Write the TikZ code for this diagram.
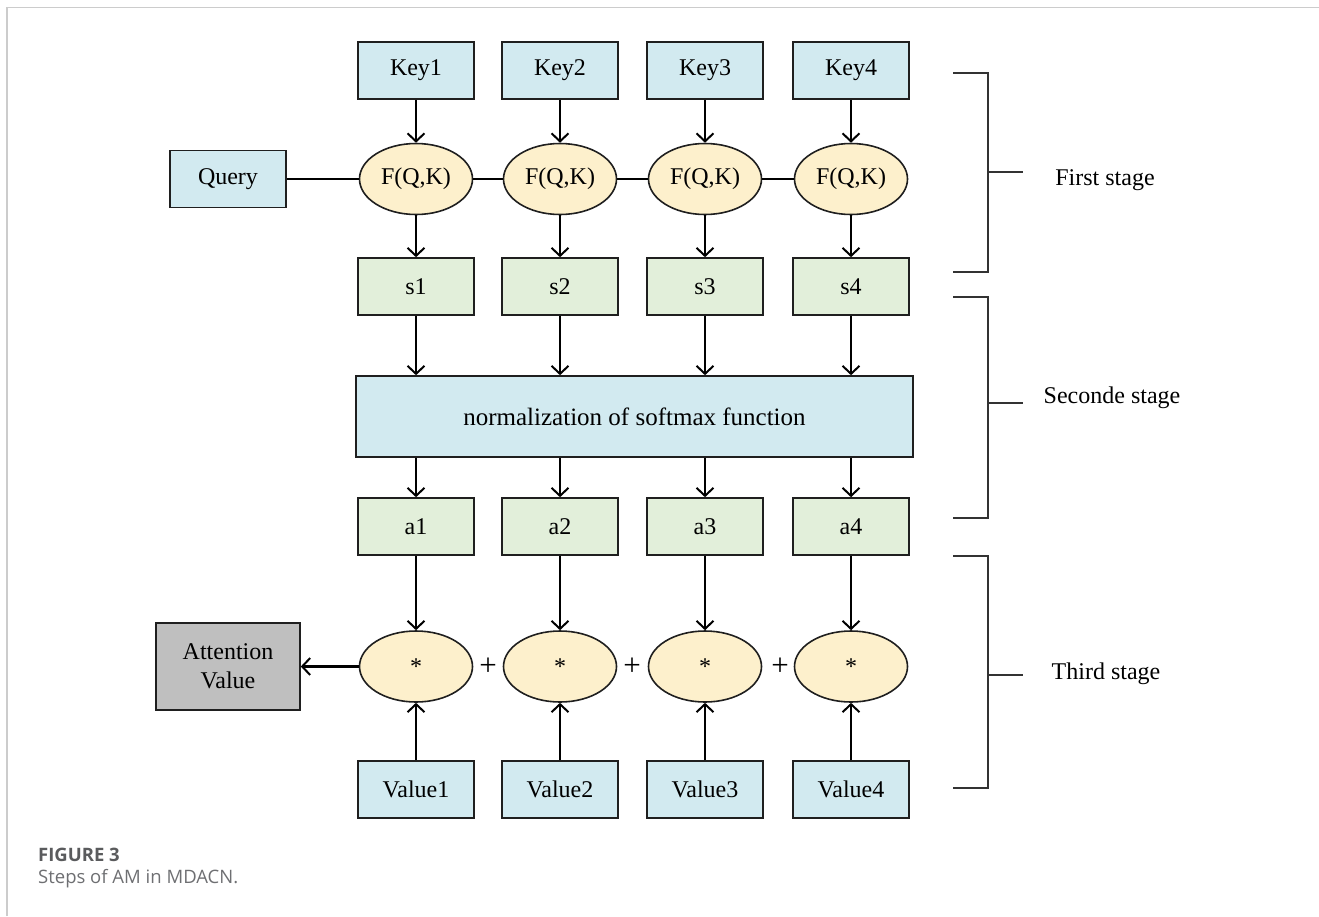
\documentclass[tikz,border=0pt]{standalone}
\usepackage{fontspec}
\setmainfont{Liberation Serif}
\newfontfamily\capfont{Open Sans}
\usetikzlibrary{arrows.meta,shapes.geometric}

\definecolor{boxblue}{HTML}{D2EAF0}
\definecolor{boxgreen}{HTML}{E2EFDA}
\definecolor{ovalfill}{HTML}{FDF0CC}
\definecolor{resultgray}{HTML}{BFBFBF}
\definecolor{framegray}{HTML}{CCCCCC}
\definecolor{capdark}{HTML}{5A5B5D}
\definecolor{caplight}{HTML}{6E6F72}

\begin{document}
\begin{tikzpicture}[x=1pt,y=-1pt,
  every node/.style={font=\fontsize{24}{29}\selectfont, text=black, inner sep=0pt},
  basebox/.style={draw=black!88, line width=1.6pt, minimum width=116pt, minimum height=57pt},
  bluebox/.style={basebox, fill=boxblue},
  greenbox/.style={basebox, fill=boxgreen},
  oval/.style={ellipse, draw=black!88, line width=1.6pt, fill=ovalfill, minimum width=113pt, minimum height=71pt},
  link/.style={line width=2.2pt, draw=black},
  arr/.style={link, -{Straight Barb[length=8pt,width=17pt,line width=2pt]}},
  bracket/.style={line width=2pt, draw=black!80},
  plus/.style={font=\fontsize{31}{31}\selectfont},
]
\useasboundingbox (0,0) rectangle (1319,916);

% page frame
\draw[framegray, line width=1.5pt] (7,916) -- (7,7.5) -- (1319,7.5);

% query and key inputs
\node[bluebox] (query) at (228,179) {Query};
\foreach \i/\x in {1/416,2/560,3/705,4/851}{
  \node[bluebox]  (key\i) at (\x,70.5) {Key\i};
  \node[oval]     (f\i)   at (\x,179)  {F(Q,K)};
  \node[greenbox] (s\i)   at (\x,286.5) {s\i};
  \node[greenbox] (a\i)   at (\x,526.5) {a\i};
  \node[oval]     (m\i)   at (\x,666.5) {*};
  \node[bluebox]  (v\i)   at (\x,789.5) {Value\i};
}

% softmax normalisation
\node[draw=black!88, line width=1.6pt, fill=boxblue, minimum width=557pt, minimum height=81pt,
      font=\fontsize{25}{29}\selectfont] (norm) at (634.5,416.5) {normalization of softmax function};

% output
\node[basebox, fill=resultgray, minimum width=144pt, minimum height=87pt, align=center] (att) at (228,666.5) {Attention\\Value};

% plus signs between the products
\node[plus] (p1) at (488,667) {+};
\node[plus] (p2) at (632,667) {+};
\node[plus] (p3) at (780,667) {+};

% connectors
\draw[link] (query) -- (f1);
\draw[link] (f1) -- (f2);
\draw[link] (f2) -- (f3);
\draw[link] (f3) -- (f4);
\foreach \i in {1,2,3,4}{
  \draw[arr] (key\i) -- (f\i);
  \draw[arr] (f\i) -- (s\i);
  \draw[arr] (s\i) -- (s\i |- norm.north);
  \draw[arr] (a\i |- norm.south) -- (a\i);
  \draw[arr] (a\i) -- (m\i);
  \draw[arr] (v\i) -- (m\i);
}
\draw[arr] (m1) -- (att);

% stage brackets
\coordinate (b1t) at (953,73);   \coordinate (b1b) at (953,272);
\coordinate (b2t) at (953,297);  \coordinate (b2b) at (953,518);
\coordinate (b3t) at (953,556);  \coordinate (b3b) at (953,788);
\draw[bracket] (b1t) -- ++(35,0) |- (b1b);
\draw[bracket] (b2t) -- ++(35,0) |- (b2b);
\draw[bracket] (b3t) -- ++(35,0) |- (b3b);
\draw[bracket] (988,172) -- (1023,172);
\draw[bracket] (988,403) -- (1023,403);
\draw[bracket] (988,675) -- (1023,675);
\node (st1) at (1105,180) {First stage};
\node (st2) at (1112,398) {Seconde stage};
\node (st3) at (1106,674) {Third stage};

% caption
\node[anchor=base west, font=\capfont\bfseries\fontsize{18.5}{22}\selectfont, text=capdark] (fig) at (38,861) {FIGURE 3};
\node[anchor=base west, font=\capfont\fontsize{18.5}{22}\selectfont, text=caplight] (cap) at (38,883) {Steps of AM in MDACN.};
\end{tikzpicture}
\end{document}
